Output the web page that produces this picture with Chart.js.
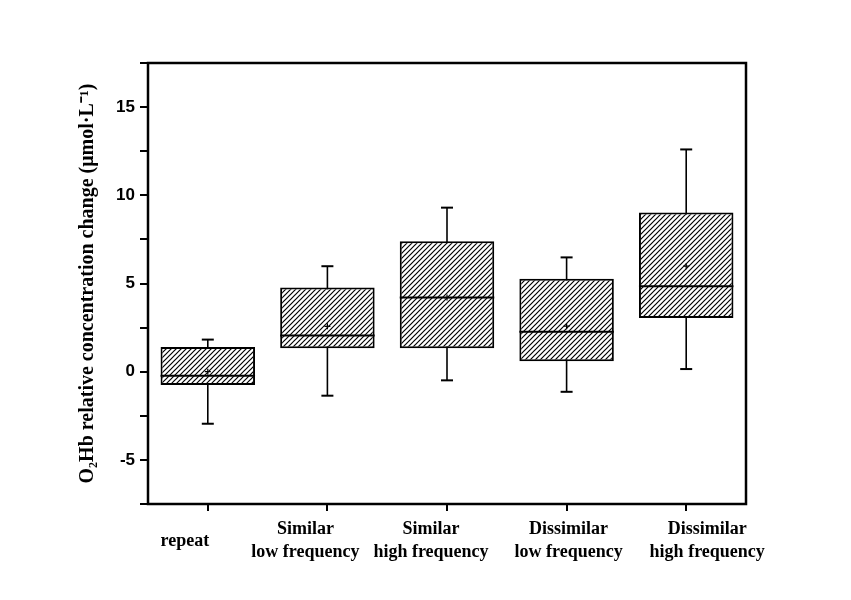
<!DOCTYPE html>
<html>
<head>
<meta charset="utf-8">
<script src="https://cdn.jsdelivr.net/npm/chart.js@4.4.0/dist/chart.umd.min.js"></script>
<style>
    html, body { margin: 0; padding: 0; background: #ffffff; }
    #wrap { width: 851px; height: 600px; position: relative; }
</style>
</head>
<body>
<div id="wrap"><canvas id="boxChart"></canvas></div>
<script>
// box plot values
const categories = [['repeat'], ['Similar', 'low frequency'], ['Similar', 'high frequency'], ['Dissimilar', 'low frequency'], ['Dissimilar', 'high frequency']];
const whiskerLow = [-2.95, -1.36, -0.49, -1.14, 0.15];
const q1 = [-0.76, 1.33, 1.33, 0.59, 3.05];
const median = [-0.23, 2.05, 4.2, 2.27, 4.85];
const q3 = [1.40, 4.77, 7.39, 5.27, 9.02];
const whiskerHigh = [1.82, 5.98, 9.3, 6.48, 12.6];
const means = [0.0, 2.57, 4.2, 2.58, 5.98];
const yTicks = [-5, 0, 5, 10, 15];

// label nudges to follow the original figure
const labelShift = [-23, -22, -16, 2, 21];

document.addEventListener('DOMContentLoaded', function () {
    // diagonal hatch fill for the boxes
    const n = 5;
    const tile = document.createElement('canvas');
    tile.width = n;
    tile.height = n;
    const t = tile.getContext('2d');
    t.fillStyle = '#ffffff';
    t.fillRect(0, 0, n, n);
    t.strokeStyle = '#000000';
    t.lineWidth = 1.2;
    t.beginPath();
    t.moveTo(-1, n + 1); t.lineTo(n + 1, -1);
    t.moveTo(-1, 1); t.lineTo(1, -1);
    t.moveTo(n - 1, n + 1); t.lineTo(n + 1, n - 1);
    t.stroke();
    const hatch = t.createPattern(tile, 'repeat');

    const boxExtras = {
        id: 'boxExtras',
        beforeDatasetsDraw(chart) {
            // whiskers go behind the boxes
            const ctx = chart.ctx, x = chart.scales.x, y = chart.scales.y;
            ctx.save();
            ctx.strokeStyle = '#000';
            categories.forEach(function (c, i) {
                const cx = x.getPixelForValue(i);
                ctx.lineWidth = 1.6;
                ctx.beginPath();
                ctx.moveTo(cx, y.getPixelForValue(whiskerLow[i]));
                ctx.lineTo(cx, y.getPixelForValue(whiskerHigh[i]));
                ctx.stroke();
                ctx.lineWidth = 2;
                [whiskerLow[i], whiskerHigh[i]].forEach(function (v) {
                    const py = y.getPixelForValue(v);
                    ctx.beginPath();
                    ctx.moveTo(cx - 6, py);
                    ctx.lineTo(cx + 6, py);
                    ctx.stroke();
                });
            });
            ctx.restore();
        },
        afterDatasetsDraw(chart) {
            const ctx = chart.ctx, y = chart.scales.y;
            const meta = chart.getDatasetMeta(0);
            ctx.save();
            ctx.strokeStyle = '#000';
            ctx.lineWidth = 2;
            meta.data.forEach(function (bar, i) {
                const half = bar.width / 2;
                const py = y.getPixelForValue(median[i]);
                ctx.beginPath();
                ctx.moveTo(bar.x - half, py);
                ctx.lineTo(bar.x + half, py);
                ctx.stroke();
            });
            ctx.restore();
        },
        afterDraw(chart) {
            const ctx = chart.ctx, a = chart.chartArea, x = chart.scales.x;
            ctx.save();
            ctx.strokeStyle = '#000';
            ctx.lineWidth = 2.5;
            ctx.strokeRect(a.left, a.top, a.right - a.left, a.bottom - a.top);
            // category labels
            ctx.fillStyle = '#000';
            ctx.font = 'bold 18px "Liberation Serif", "Times New Roman", serif';
            ctx.textAlign = 'center';
            ctx.textBaseline = 'middle';
            categories.forEach(function (lines, i) {
                const cx = x.getPixelForValue(i) + labelShift[i];
                if (lines.length === 1) {
                    ctx.fillText(lines[0], cx, a.bottom + 37);
                } else {
                    ctx.fillText(lines[0], cx, a.bottom + 25);
                    ctx.fillText(lines[1], cx, a.bottom + 48);
                }
            });
            ctx.restore();
        }
    };

    new Chart(document.getElementById('boxChart'), {
        data: {
            labels: categories,
            datasets: [{
                type: 'bar',
                label: 'IQR',
                order: 2,
                data: q1.map(function (v, i) { return [v, q3[i]]; }),
                backgroundColor: hatch,
                borderColor: '#000',
                borderWidth: 2,
                borderSkipped: false,
                barPercentage: 0.79,
                categoryPercentage: 1
            }, {
                type: 'line',
                label: 'Mean',
                order: 1,
                data: means,
                showLine: false,
                pointStyle: 'cross',
                pointRadius: 3,
                pointBorderWidth: 1.2,
                pointBorderColor: '#000',
                pointBackgroundColor: '#000'
            }]
        },
        options: {
            responsive: true,
            maintainAspectRatio: false,
            animation: false,
            layout: { padding: { top: 63, right: 105, left: 0, bottom: 0 } },
            plugins: {
                legend: { display: false },
                tooltip: { enabled: false }
            },
            scales: {
                x: {
                    type: 'category',
                    offset: true,
                    grid: { display: true, drawOnChartArea: false, offset: false, tickLength: 7, color: '#000', lineWidth: 2 },
                    border: { display: false },
                    ticks: { display: false },
                    afterFit: function (s) { s.height = 96; }
                },
                y: {
                    min: -7.5,
                    max: 17.5,
                    grid: { drawOnChartArea: false, tickLength: 8, color: '#000', lineWidth: 2 },
                    border: { display: false },
                    ticks: {
                        stepSize: 2.5,
                        autoSkip: false,
                        padding: 5,
                        color: '#000',
                        font: { family: '"Liberation Sans", Arial, sans-serif', size: 17, weight: 'bold' },
                        callback: function (v) { return yTicks.indexOf(v) >= 0 ? String(v) : ''; }
                    },
                    title: {
                        display: true,
                        text: 'O\u2082Hb relative concentration change (\u03bcmol\u00b7L\u207b\u00b9)',
                        color: '#000',
                        font: { family: '"Liberation Serif", "Times New Roman", serif', size: 20, weight: 'bold' },
                        padding: { top: 76, bottom: 0 }
                    },
                    afterFit: function (s) { s.width = 148; }
                }
            }
        },
        plugins: [boxExtras]
    });
});
</script>
</body>
</html>
